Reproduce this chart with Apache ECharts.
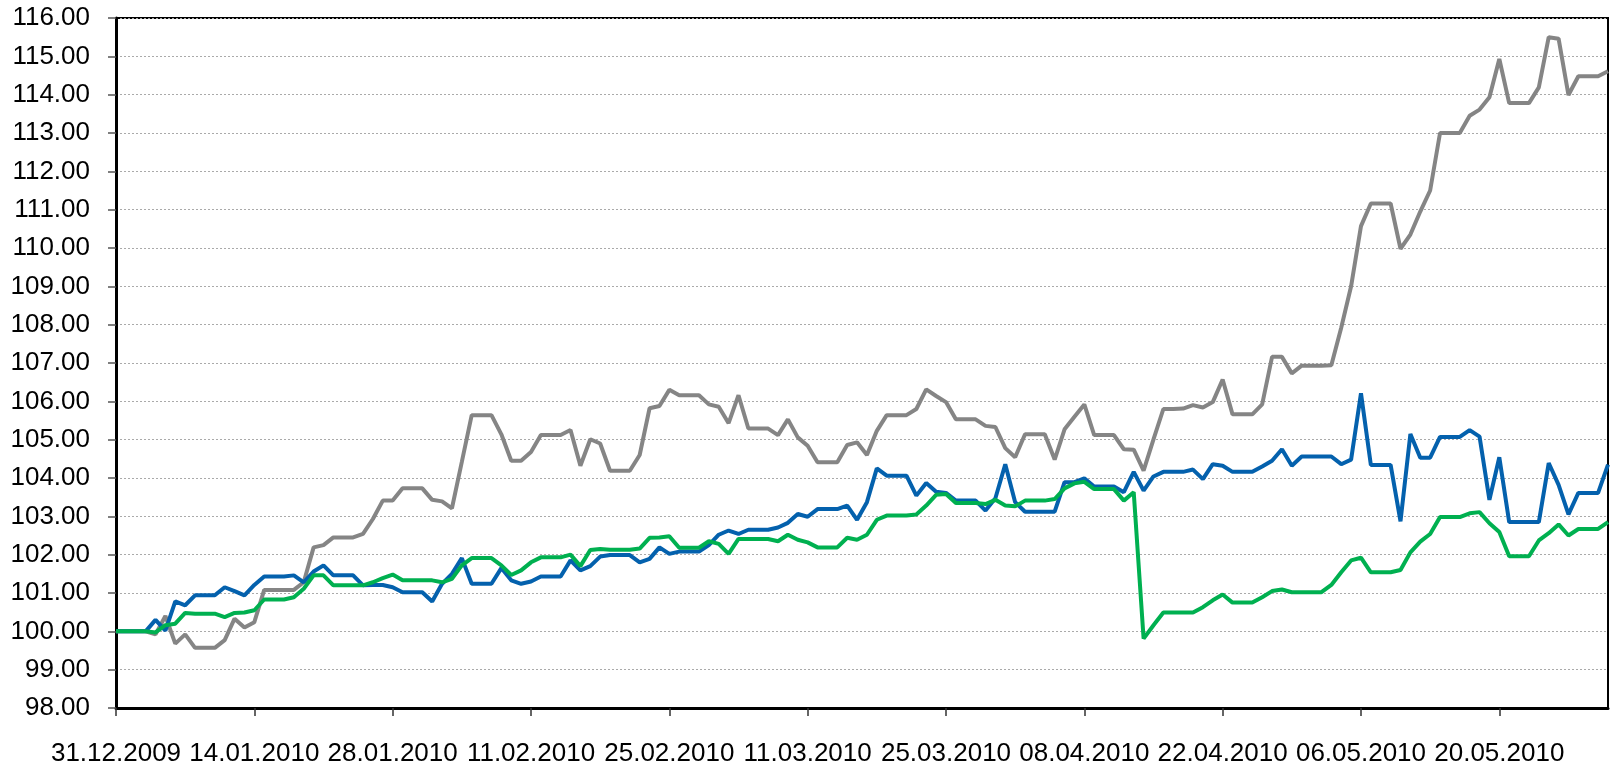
<!DOCTYPE html>
<html>
<head>
<meta charset="utf-8">
<title>Index chart</title>
<script src="https://cdn.jsdelivr.net/npm/echarts@6/dist/echarts.min.js"></script>
<style>
    html, body { margin: 0; padding: 0; background: #fff; }
    #chart { width: 1610px; height: 767px; }
</style>
</head>
<body>
<div id="chart"></div>
<script>
    // daily values 31.12.2009 .. 31.05.2010 (weekends carry friday's value)
    var firstDay = [2009, 11, 31];
    var dayCount = 152;

    var greySeries = [
        100, 100, 100, 100, 99.92, 100.4, 99.68, 99.92, 99.57, 99.57,
        99.57, 99.77, 100.33, 100.1, 100.24, 101.08, 101.08, 101.08, 101.08, 101.28,
        102.19, 102.25, 102.45, 102.45, 102.45, 102.54, 102.93, 103.41, 103.41, 103.73,
        103.73, 103.73, 103.43, 103.39, 103.21, 104.42, 105.64, 105.64, 105.64, 105.14,
        104.45, 104.45, 104.68, 105.12, 105.12, 105.12, 105.25, 104.32, 105.01, 104.9,
        104.19, 104.19, 104.19, 104.6, 105.82, 105.88, 106.3, 106.16, 106.16, 106.16,
        105.92, 105.86, 105.43, 106.16, 105.29, 105.29, 105.29, 105.12, 105.53, 105.06,
        104.84, 104.41, 104.41, 104.41, 104.86, 104.93, 104.6, 105.23, 105.64, 105.64,
        105.64, 105.8, 106.31, 106.14, 105.98, 105.53, 105.53, 105.53, 105.36, 105.33,
        104.78, 104.54, 105.14, 105.14, 105.14, 104.48, 105.27, 105.6, 105.92, 105.12,
        105.12, 105.12, 104.75, 104.74, 104.19, 105.01, 105.8, 105.8, 105.81, 105.9,
        105.84, 105.98, 106.57, 105.66, 105.66, 105.66, 105.92, 107.16, 107.16, 106.73,
        106.93, 106.93, 106.93, 106.94, 107.92, 109.0, 110.57, 111.16, 111.16, 111.16,
        109.98, 110.35, 110.95, 111.5, 113.0, 113.0, 113.0, 113.45, 113.61, 113.93,
        114.93, 113.78, 113.78, 113.78, 114.19, 115.5, 115.46, 113.99, 114.48, 114.48,
        114.48, 114.61
    ];

    var blueSeries = [
        100, 100, 100, 100, 100.3, 100.02, 100.78, 100.68, 100.94, 100.94,
        100.94, 101.15, 101.05, 100.94, 101.21, 101.43, 101.43, 101.43, 101.46, 101.28,
        101.56, 101.72, 101.46, 101.46, 101.46, 101.2, 101.21, 101.21, 101.15, 101.02,
        101.02, 101.02, 100.78, 101.24, 101.5, 101.91, 101.24, 101.24, 101.24, 101.65,
        101.33, 101.24, 101.3, 101.43, 101.43, 101.43, 101.85, 101.59, 101.7, 101.95,
        101.99, 101.99, 101.99, 101.8, 101.89, 102.19, 102.02, 102.08, 102.08, 102.08,
        102.25, 102.52, 102.63, 102.54, 102.65, 102.65, 102.65, 102.71, 102.83, 103.06,
        102.99, 103.19, 103.19, 103.19, 103.28, 102.91, 103.37, 104.25, 104.06, 104.06,
        104.06, 103.54, 103.87, 103.64, 103.61, 103.41, 103.41, 103.41, 103.15, 103.47,
        104.36, 103.37, 103.12, 103.12, 103.12, 103.12, 103.89, 103.89, 103.99, 103.78,
        103.78, 103.78, 103.63, 104.16, 103.67, 104.04, 104.16, 104.16, 104.16, 104.22,
        103.97, 104.36, 104.32, 104.16, 104.16, 104.16, 104.3, 104.45, 104.75, 104.32,
        104.56, 104.56, 104.56, 104.56, 104.36, 104.48, 106.21, 104.34, 104.34, 104.34,
        102.87, 105.15, 104.53, 104.53, 105.07, 105.07, 105.07, 105.25, 105.08, 103.43,
        104.54, 102.85, 102.85, 102.85, 102.85, 104.39, 103.82, 103.05, 103.61, 103.61,
        103.61, 104.35
    ];

    var greenSeries = [
        100, 100, 100, 100, 99.97, 100.16, 100.2, 100.48, 100.46, 100.46,
        100.46, 100.37, 100.48, 100.49, 100.55, 100.83, 100.83, 100.83, 100.89, 101.11,
        101.46, 101.46, 101.2, 101.2, 101.2, 101.2, 101.28, 101.39, 101.48, 101.33,
        101.33, 101.33, 101.33, 101.28, 101.37, 101.72, 101.91, 101.91, 101.91, 101.72,
        101.47, 101.59, 101.8, 101.93, 101.93, 101.93, 102.0, 101.7, 102.12, 102.15,
        102.13, 102.13, 102.13, 102.16, 102.44, 102.45, 102.48, 102.18, 102.18, 102.18,
        102.35, 102.28, 102.02, 102.41, 102.41, 102.41, 102.41, 102.35, 102.52, 102.39,
        102.32, 102.19, 102.19, 102.19, 102.44, 102.39, 102.52, 102.91, 103.02, 103.02,
        103.02, 103.05, 103.28, 103.56, 103.58, 103.35, 103.35, 103.35, 103.32, 103.43,
        103.28, 103.26, 103.41, 103.41, 103.41, 103.45, 103.73, 103.86, 103.9, 103.71,
        103.71, 103.71, 103.41, 103.63, 99.81, 100.16, 100.49, 100.49, 100.49, 100.49,
        100.63, 100.81, 100.96, 100.75, 100.75, 100.75, 100.89, 101.05, 101.09, 101.02,
        101.02, 101.02, 101.02, 101.21, 101.54, 101.85, 101.92, 101.54, 101.54, 101.54,
        101.6, 102.06, 102.34, 102.54, 102.98, 102.98, 102.98, 103.08, 103.11, 102.82,
        102.59, 101.96, 101.96, 101.96, 102.37, 102.56, 102.79, 102.5, 102.67, 102.67,
        102.67, 102.85
    ];

    var yMin = 98;
    var yMax = 116;

    function pad(n) {
        return n < 10 ? '0' + n : '' + n;
    }

    var dayLabels = [];
    for (var i = 0; i < dayCount; i++) {
        var dt = new Date(firstDay[0], firstDay[1], firstDay[2] + i);
        dayLabels.push(pad(dt.getDate()) + '.' + pad(dt.getMonth() + 1) + '.' + dt.getFullYear());
    }

    var chart = echarts.init(document.getElementById('chart'), null, { renderer: 'canvas' });

    var option = {
        animation: false,
        backgroundColor: '#fff',
        grid: {
            left: 116,
            top: 18,
            right: 2,
            bottom: 57,
            show: true,
            borderColor: '#000',
            borderWidth: 2,
            backgroundColor: 'transparent'
        },
        xAxis: {
            type: 'category',
            data: dayLabels,
            boundaryGap: false,
            axisLine: {
                show: true,
                lineStyle: { color: '#000', width: 3 }
            },
            axisTick: {
                show: true,
                interval: 13,
                length: 8,
                lineStyle: { color: '#333', width: 1.5 }
            },
            axisLabel: {
                interval: 13,
                margin: 33,
                color: '#000',
                fontFamily: 'Liberation Sans',
                fontSize: 26
            },
            splitLine: { show: false }
        },
        yAxis: {
            type: 'value',
            min: yMin,
            max: yMax,
            interval: 1,
            axisLine: {
                show: true,
                lineStyle: { color: '#000', width: 3 }
            },
            axisTick: {
                show: true,
                length: 8,
                lineStyle: { color: '#555', width: 1.5 }
            },
            axisLabel: {
                margin: 26,
                color: '#000',
                fontFamily: 'Liberation Sans',
                fontSize: 26,
                formatter: function(v) {
                    return v.toFixed(2);
                }
            },
            splitLine: {
                show: true,
                lineStyle: { color: '#aaa', width: 1, type: [2, 2] }
            }
        },
        series: [{
            name: 'grey',
            type: 'line',
            data: greySeries,
            showSymbol: false,
            symbol: 'none',
            lineStyle: { color: '#858585', width: 4 }
        }, {
            name: 'blue',
            type: 'line',
            data: blueSeries,
            showSymbol: false,
            symbol: 'none',
            lineStyle: { color: '#0461ad', width: 4 }
        }, {
            name: 'green',
            type: 'line',
            data: greenSeries,
            showSymbol: false,
            symbol: 'none',
            lineStyle: { color: '#00b050', width: 4 }
        }]
    };

    chart.setOption(option);
</script>
</body>
</html>
